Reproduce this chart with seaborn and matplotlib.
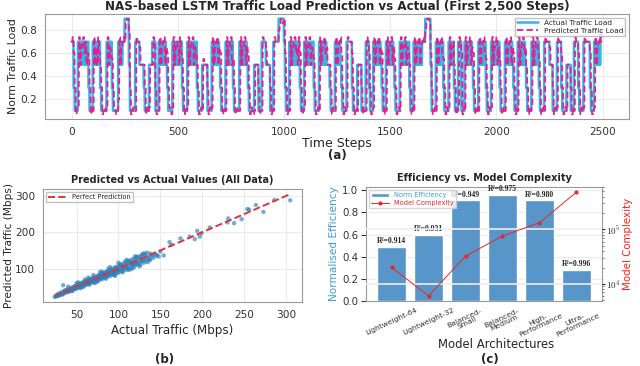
import numpy as np
import matplotlib
matplotlib.use("Agg")
import matplotlib.pyplot as plt
import seaborn as sns
from matplotlib.ticker import FuncFormatter, LogLocator

# ---- panel (a): traffic load, one code per 5 time steps ----
LEVEL = {"1": 0.10, "3": 0.30, "5": 0.50, "6": 0.60, "7": 0.70, "8": 0.80, "9": 0.90,
         "a": 0.07, "b": 0.13, "c": 0.20, "e": 0.55, "g": 0.65, "h": 0.74, "k": 0.86}
STEP = 5

ACTUAL = ("773111" "7575775757" "3111" "7575757" "311111" "75757" "311111" "757577"
          "9999" "5" "11111" "7777" "5555" "3" "1111" "555" "777" "111" "75757575" "3" "1111" "75757"
          "5757" "3" "1111" "757575757" "3" "1111" "55555" "1111" "75757575" "3" "1111" "75757"
          "57" "3" "11111" "75757575" "3" "11111" "5555" "111" "7777" "5555" "111" "77777" "99999"
          "7" "3" "111" "7575757575" "3" "111" "757575757" "3" "1111" "7575757" "555" "3" "1111" "75"
          "7575" "3" "1111" "77777" "3" "1111" "5555" "1111" "777" "3" "111" "75757575" "3" "111" "7575"
          "7575" "3" "1111" "757575757" "3" "111" "7575757577" "7" "99999" "5" "1111" "7575757"
          "3" "1111" "75757" "3" "111" "777" "111" "75757575" "3" "1111" "7575757" "3" "1111" "75757"
          "757" "3" "1111" "75757575" "3" "111" "75757575" "3" "1111" "7575757" "3" "1111" "77777"
          "555" "1111" "7777" "3" "1111" "5555" "111" "7777" "3" "1111" "777777" "3" "111" "757575" "88")

PREDICTED = ("7h63ab" "bh5g7h6756" "e3ab" "1h5g5h6" "53a1b1" "bh5g6" "e3b1a1" "ch5g7h"
             "7k99" "8" "3a1b1" "1h77" "g555" "5" "3ab1" "b55" "5h7" "3a1" "1h5g7h5g" "6" "3b1a" "bh5g7"
             "g5h6" "e" "3ab1" "bh5g7h5g6" "5" "3a1b" "1e555" "3ab1" "bh5g7h5g" "6" "3a1b" "1h5g7"
             "h5" "e" "3a1b1" "1h5g7h5g" "6" "3ab1a" "1555" "3a1" "1h77" "g555" "3ab" "1h777" "8k99k"
             "9" "6" "3ab" "1h5g7h6g5h" "6" "3a1" "bh5g7h5g6" "e" "3a1b" "1h5g7h6" "g55" "5" "3ab1" "1h"
             "5g7h" "6" "3ab1" "bh777" "6" "3a1b" "1555" "3ab1" "1h7" "6" "3a1" "bh5g7h5g" "6" "3ab" "1h5g"
             "7h5g" "e" "3a1b" "1h5g7h5g6" "5" "3ab" "1h5g7h5g7h" "7" "8k99k" "6" "3a1b" "1h5g7h6"
             "e" "3ab1" "bh5g7" "5" "3a1" "bh7" "6ab" "1h5g7h5g" "6" "3a1b" "1h5g7h6" "e" "3ab1" "bh5g7"
             "h5g" "e" "3a1b" "1h5g7h5g" "6" "3ab" "1h5g7h6g" "5" "3ab1" "bh5g7h6" "e" "3a1b" "1h777"
             "g55" "3ab1" "bh77" "6" "3a1b" "1555" "3ab" "1h77" "6" "3ab1" "bh7777" "6" "3a1" "bh5g7h" "78")

# ---- panel (b): predicted vs actual traffic (Mbps) ----
ACT_MBPS = [24, 25, 26, 27, 28, 29, 30, 31, 32, 33, 34, 34, 35, 35, 36, 37, 38, 39, 40, 40, 41, 42, 43,
            44, 45, 45, 46, 47, 48, 49, 50, 50, 51, 52, 53, 54, 55, 55, 56, 57, 58, 59, 60, 60, 61,
            62, 63, 64, 65, 65, 66, 67, 68, 69, 70, 70, 71, 72, 73, 74, 75, 75, 76, 77, 78, 79, 80,
            80, 81, 82, 83, 84, 85, 85, 86, 87, 88, 89, 90, 90, 91, 92, 93, 94, 95, 95, 96, 97, 98,
            99, 100, 100, 101, 103, 104, 105, 106, 107, 108, 110, 110, 111, 112, 113, 115, 115, 116,
            117, 118, 119, 120, 121, 122, 123, 124, 125, 126, 127, 128, 129, 130, 131, 132, 133, 134,
            135, 137, 138, 140, 142, 145, 148, 154, 161, 163, 174, 185, 191, 194, 197, 199, 209, 230,
            231, 238, 247, 254, 256, 264, 273, 286, 305]
PRED_MBPS = [22, 24, 23, 27, 25, 30, 27, 29, 34, 31, 30, 54, 38, 33, 35, 40, 34, 37, 43, 38, 36, 45, 40,
             41, 48, 43, 42, 50, 45, 47, 54, 48, 46, 56, 50, 52, 59, 53, 51, 61, 55, 57, 64, 57, 55,
             67, 60, 62, 70, 63, 59, 72, 64, 66, 75, 67, 62, 77, 69, 71, 80, 72, 68, 82, 74, 76, 86,
             77, 72, 88, 79, 81, 91, 82, 77, 93, 84, 86, 96, 87, 81, 98, 89, 91, 102, 91, 86, 104, 94,
             96, 107, 96, 90, 110, 100, 98, 114, 103, 96, 118, 106, 101, 121, 108, 113, 124, 102,
             111, 127, 115, 108, 130, 118, 112, 133, 120, 110, 126, 136, 122, 116, 140, 128, 120, 144,
             131, 125, 141, 135, 130, 138, 133, 136, 173, 165, 183, 188, 181, 204, 188, 197, 213, 227,
             238, 225, 236, 264, 262, 275, 256, 289, 288]
ACT_MBPS_2 = [27, 29, 31, 33, 36, 38, 39, 41, 43, 44, 46, 47, 48, 49, 51, 52, 53, 54, 56, 57, 58, 59,
              61, 62, 63, 64, 66, 67, 68, 69, 71, 72, 73, 74, 76, 77, 78, 79, 81, 82, 83, 84, 86, 87,
              88, 89, 91, 92, 93, 94, 96, 97, 98, 99, 101, 102, 104, 105, 107, 109, 111, 112, 114,
              116, 118, 120, 122, 124, 126, 128, 130, 133, 136, 139, 143, 146, 150]
PRED_MBPS_2 = [29, 26, 33, 28, 39, 36, 42, 40, 46, 39, 47, 44, 51, 44, 52, 49, 57, 48, 58, 54, 62, 53,
               62, 58, 66, 59, 69, 63, 71, 62, 72, 68, 76, 66, 78, 72, 82, 70, 82, 76, 87, 75, 88, 81,
               92, 79, 92, 86, 97, 84, 97, 92, 101, 88, 103, 95, 108, 92, 110, 103, 114, 99, 118,
               110, 120, 113, 124, 114, 130, 120, 126, 136, 128, 138, 141, 136, 147]
ACT_MBPS_3 = [40, 45, 50, 55, 60, 65, 70, 75, 80, 85, 90, 95, 100, 105, 110, 115, 120, 125, 130, 135,
              64, 72, 88, 96, 108, 118, 128, 138, 58, 52, 78, 102, 112, 122]
PRED_MBPS_3 = [50, 38, 60, 46, 70, 55, 82, 64, 92, 72, 104, 82, 116, 90, 124, 98, 134, 106, 142, 118,
               75, 60, 100, 80, 120, 102, 138, 124, 49, 62, 90, 112, 96, 132]

# ---- panel (c): efficiency vs model complexity ----
ARCHS = ["Lightweight-64", "Lightweight-32", "Balanced-\nSmall", "Balanced-\nMedium",
         "High-\nPerformance", "Ultra-\nPerformance"]
EFFICIENCY = [0.49, 0.60, 0.91, 0.96, 0.91, 0.28]
COMPLEXITY = [20100, 6050, 32300, 76000, 133000, 484000]
R2 = ["0.914", "0.931", "0.949", "0.975", "0.980", "0.996"]

sns.set_style("whitegrid", {"axes.edgecolor": "0.6", "grid.color": "0.92"})
plt.rcParams["font.family"] = ["DejaVu Sans"]
plt.rcParams["mathtext.fontset"] = "cm"

W, H = 640, 366
fig = plt.figure(figsize=(6.4, 3.66), dpi=100)


def box(l, t, r, b):
    return [l / W, 1 - b / H, (r - l) / W, (b - t) / H]


ax_a = fig.add_axes(box(45, 14, 629, 119))
ax_b = fig.add_axes(box(43, 189, 302, 302))
ax_c = fig.add_axes(box(366, 187, 602, 301))

# (a)
actual = np.repeat([LEVEL[c] for c in ACTUAL], STEP)
predicted = np.repeat([LEVEL[c] for c in PREDICTED], STEP)
t = np.arange(len(actual))
sns.lineplot(x=t, y=actual, ax=ax_a, color="#35b4e8", lw=1.8, label="Actual Traffic Load")
sns.lineplot(x=t, y=predicted, ax=ax_a, color="#e2208f", lw=1.3, label="Predicted Traffic Load")
ax_a.lines[1].set_dashes((3.5, 1.8))
ax_a.set_title("NAS-based LSTM Traffic Load Prediction vs Actual (First 2,500 Steps)",
               fontsize=8.6, fontweight="bold", pad=3)
ax_a.set_xlabel("Time Steps", fontsize=9, labelpad=0)
ax_a.set_ylabel("Norm Traffic Load", fontsize=7.8, labelpad=2)
ax_a.set_yticks([0.2, 0.4, 0.6, 0.8])
leg = ax_a.legend(loc="upper right", fontsize=5.3, frameon=True, fancybox=False,
                  borderpad=0.3, handlelength=2.8, labelspacing=0.2)
leg.get_frame().set_edgecolor("0.7")
leg.get_lines()[1].set_dashes((3.5, 1.8))

# (b)
sns.scatterplot(x=ACT_MBPS + ACT_MBPS_2 + ACT_MBPS_3, y=PRED_MBPS + PRED_MBPS_2 + PRED_MBPS_3,
                ax=ax_b, s=10, color="#2f7fbd", alpha=0.65, edgecolor="none")
lo, hi = min(ACT_MBPS), max(ACT_MBPS)
ax_b.plot([lo, hi], [lo, hi], ls="--", color="#d9363e", lw=1.4, label="Perfect Prediction")
ax_b.set_title("Predicted vs Actual Values (All Data)", fontsize=7, fontweight="bold", pad=4)
ax_b.set_xlabel("Actual Traffic (Mbps)", fontsize=8.6, labelpad=3)
ax_b.set_ylabel("Predicted Traffic (Mbps)", fontsize=7.6, labelpad=1)
leg = ax_b.legend(loc="upper left", fontsize=4.8, frameon=True, fancybox=False,
                  borderpad=0.3, handlelength=2.8)
leg.get_frame().set_edgecolor("0.7")

# (c)
sns.barplot(x=np.arange(len(ARCHS)), y=EFFICIENCY, ax=ax_c, color="#5895c9",
            saturation=1, width=0.8, label="Norm Efficiency")
if ax_c.get_legend():
    ax_c.get_legend().remove()
for i, (e, r) in enumerate(zip(EFFICIENCY, R2)):
    ax_c.text(i, e + 0.015, "R²=" + r, ha="center", va="bottom", fontsize=5.5,
              fontweight="bold", family="Liberation Serif")
ax_c.set_ylim(0, 1.03)
ax_c.set_yticks([0.0, 0.2, 0.4, 0.6, 0.8, 1.0])
ax_c.set_xticks(range(len(ARCHS)))
ax_c.set_xticklabels(ARCHS, rotation=25, ha="center", fontsize=5.4, linespacing=0.9)
ax_c.set_xlabel("Model Architectures", fontsize=8.4, va="center")
ax_c.xaxis.set_label_coords(0.55, -(344 - 301) / 114)
ax_c.set_ylabel("Normalised Efficiency", fontsize=7.6, color="#3e9be0", labelpad=2)
ax_c.set_title("Efficiency vs. Model Complexity", fontsize=7, fontweight="bold", pad=4)

ax2 = ax_c.twinx()
ax2.plot(range(len(ARCHS)), COMPLEXITY, color="#e5282c", lw=0.7, marker="o", ms=2,
         label="Model Complexity")
ax2.set_yscale("log")
ax2.yaxis.set_major_locator(LogLocator(base=10))
ax2.yaxis.set_major_formatter(FuncFormatter(lambda v, p: r"$10^{%d}$" % round(np.log10(v))))
ax2.grid(axis="x", visible=False)
ax2.grid(axis="y", which="major", color="0.93", lw=1.2)
ax2.tick_params(axis="y", which="major", length=2, labelsize=6.5, pad=1)
ax2.tick_params(axis="y", which="minor", length=1.5, width=0.6, color="0.4")
ax2.set_ylabel("Model Complexity", fontsize=7.4, color="#ff2020", labelpad=2)
for s in ax2.spines.values():
    s.set_visible(False)

h1, l1 = ax_c.get_legend_handles_labels()
h2, l2 = ax2.get_legend_handles_labels()
leg = ax2.legend(h1 + h2, l1 + l2, loc="upper left", fontsize=4.8, frameon=True,
                 fancybox=False, borderpad=0.3, handlelength=2.6, labelspacing=0.3)
leg.get_frame().set_edgecolor("0.8")
leg.get_texts()[0].set_color("#3e9be0")
leg.get_texts()[1].set_color("#e5282c")

ax_a.tick_params(labelsize=7.6, colors="0.2", pad=2)
ax_b.tick_params(labelsize=7.6, colors="0.2", pad=2)
ax_c.tick_params(axis="y", labelsize=7.4, colors="0.2", pad=2)
ax_c.tick_params(axis="x", colors="0.2", pad=1)

fig.text(337 / W, 1 - 155 / H, "(a)", ha="center", va="center", fontsize=8.5, fontweight="bold")
fig.text(165 / W, 1 - 359 / H, "(b)", ha="center", va="center", fontsize=8.5, fontweight="bold")
fig.text(490 / W, 1 - 359 / H, "(c)", ha="center", va="center", fontsize=8.5, fontweight="bold")

fig.savefig("out.png", dpi=100, facecolor="white")
